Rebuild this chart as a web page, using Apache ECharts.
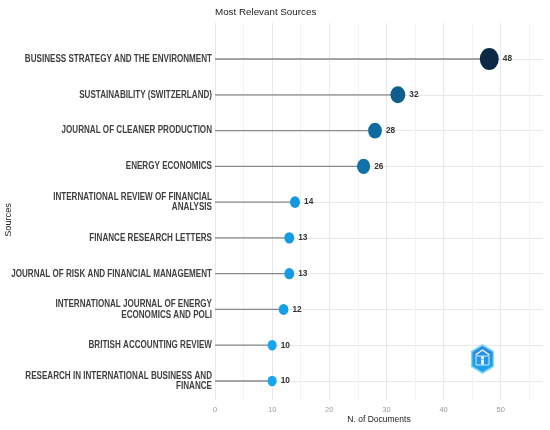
<!DOCTYPE html>
<html>
<head>
<meta charset="utf-8">
<script src="https://cdn.jsdelivr.net/npm/echarts@6/dist/echarts.min.js"></script>
<style>html,body{margin:0;padding:0;background:#fff}#c{width:550px;height:430px}</style>
</head>
<body>
<div id="c"></div>
<script>
const sources = [
  "BUSINESS STRATEGY AND THE ENVIRONMENT",
  "SUSTAINABILITY (SWITZERLAND)",
  "JOURNAL OF CLEANER PRODUCTION",
  "ENERGY ECONOMICS",
  "INTERNATIONAL REVIEW OF FINANCIAL\nANALYSIS",
  "FINANCE RESEARCH LETTERS",
  "JOURNAL OF RISK AND FINANCIAL MANAGEMENT",
  "INTERNATIONAL JOURNAL OF ENERGY\nECONOMICS AND POLI",
  "BRITISH ACCOUNTING REVIEW",
  "RESEARCH IN INTERNATIONAL BUSINESS AND\nFINANCE"
];
const documents = [48, 32, 28, 26, 14, 13, 13, 12, 10, 10];
const xTicks = [0, 10, 20, 30, 40, 50];

const FONT = "'Liberation Sans', Arial, sans-serif";
const chart = echarts.init(document.getElementById('c'));
const L = 215, R = 7;

chart.setOption({
  backgroundColor: '#ffffff',
  animation: false,
  title: {
    text: 'Most Relevant Sources',
    left: L, top: 7, padding: 0,
    textStyle: {fontFamily: FONT, fontSize: 9.8, fontWeight: 'normal', color: '#222'}
  },
  grid: [
    {left: L, right: R, top: 23, bottom: 30, outerBoundsMode: 'none', containLabel: false},
    {left: L, right: R, top: 59, bottom: 49, outerBoundsMode: 'none', containLabel: false}
  ],
  xAxis: [
    {
      gridIndex: 0, type: 'value', min: 0, max: 57.4, interval: 5,
      axisLine: {show: false}, axisTick: {show: false},
      axisLabel: {
        showMaxLabel: false, margin: 6,
        fontFamily: FONT, fontSize: 7.5, color: '#9a9a9a',
        formatter: v => xTicks.indexOf(v) >= 0 ? String(v) : ''
      },
      splitLine: {show: true, lineStyle: {width: 1, color: ['#e8e8e8','#f3f3f3','#e8e8e8','#f3f3f3','#e8e8e8','#f3f3f3','#e8e8e8','#f3f3f3','#e8e8e8','#f3f3f3','#e8e8e8','#f3f3f3','rgba(0,0,0,0)']}},
      name: 'N. of Documents', nameLocation: 'middle', nameGap: 15, nameMoveOverlap: false,
      nameTextStyle: {fontFamily: FONT, fontSize: 8.5, color: '#222'}
    },
    {
      gridIndex: 1, type: 'value', min: 0, max: 57.4, show: false,
      splitLine: {show: false}
    }
  ],
  yAxis: [
    {gridIndex: 0, type: 'value', show: false, min: 0, max: 1, splitLine: {show: false}},
    {
      gridIndex: 1, type: 'category', data: sources, inverse: true, boundaryGap: false,
      axisLine: {show: false}, axisTick: {show: false},
      axisLabel: {show: false},
      splitLine: {show: true, lineStyle: {color: '#e8e8e8', width: 1}},
      name: 'Sources', nameLocation: 'middle', nameRotate: 90, nameGap: 202, nameMoveOverlap: false,
      nameTextStyle: {fontFamily: FONT, fontSize: 9.2, color: '#222'}
    }
  ],
  visualMap: {
    show: false, type: 'continuous', min: 10, max: 48, dimension: 0, seriesIndex: 1,
    inRange: {color: ['#14a5f0', '#0c2a47']}
  },
  series: [
    {
      type: 'bar', xAxisIndex: 1, yAxisIndex: 1, barWidth: 1.3,
      data: documents, itemStyle: {color: '#888888'}, silent: true, z: 2
    },
    {
      type: 'scatter', xAxisIndex: 1, yAxisIndex: 1, z: 3,
      data: documents.map((v, i) => [v, sources[i]]),
      symbol: 'circle',
      symbolSize: val => { const w = 6.5 + 0.26 * val[0]; return [w, w * 1.15]; },
      itemStyle: {opacity: 1},
      label: {
        show: true, position: 'right', distance: 4,
        formatter: p => String(p.value[0]),
        fontFamily: FONT, fontSize: 8.3, fontWeight: 'bold', color: '#333'
      }
    }
  ]
});

// Category labels: placed through the category axis scale, drawn slightly condensed
const labelX = chart.convertToPixel({xAxisIndex: 1}, 0) - 3;
const labelGraphics = sources.map(s => ({
  type: 'text', silent: true,
  x: labelX, y: chart.convertToPixel({yAxisIndex: 1}, s),
  scaleX: 0.77,
  style: {
    text: s, align: 'right', verticalAlign: 'middle',
    font: "bold 10.5px 'Liberation Sans', Arial, sans-serif",
    fill: '#404040', lineHeight: 10.5
  }
}));

chart.setOption({
  graphic: labelGraphics.concat([
    {
      type: 'group', x: 482.5, y: 359, silent: true,
      children: [
        {type: 'polygon', shape: {points: [[0,-14],[10.8,-7.5],[10.8,7.5],[0,14],[-10.8,7.5],[-10.8,-7.5]]},
         style: {fill: {type: 'linear', x: 0, y: 0, x2: 0, y2: 1, colorStops: [{offset: 0, color: '#2b86dd'}, {offset: 1, color: '#1aa6ea'}]}, stroke: '#7fd6f7', lineWidth: 1.5}},
        {type: 'polyline', shape: {points: [[-7,-4],[0,-9],[7,-4]]}, style: {stroke: '#ffffff', lineWidth: 1.2, fill: null}},
        {type: 'rect', shape: {x: -6.5, y: -3, width: 13, height: 9}, style: {fill: null, stroke: '#cfefff', lineWidth: 1}},
        {type: 'circle', shape: {cx: 0, cy: -1.5, r: 1.6}, style: {fill: '#ffffff'}},
        {type: 'rect', shape: {x: -1.3, y: 0.5, width: 2.6, height: 5}, style: {fill: '#ffffff'}}
      ]
    }
  ])
});
</script>
</body>
</html>
